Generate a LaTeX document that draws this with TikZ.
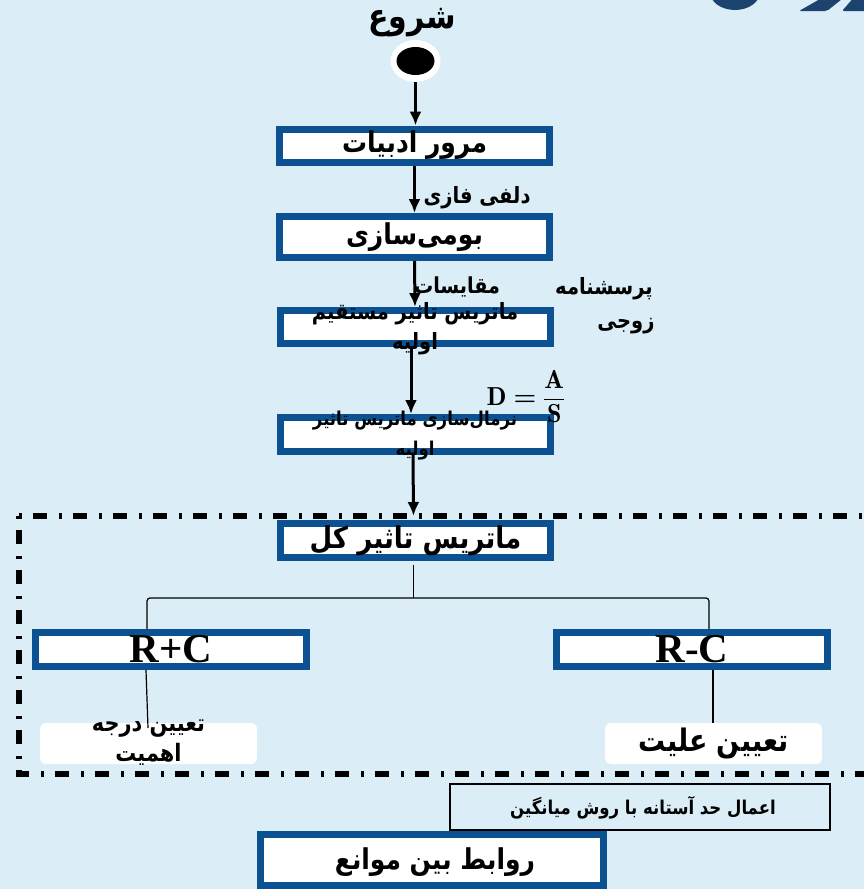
\documentclass[tikz,border=0pt]{standalone}
\usepackage{fontspec}
\usepackage{amsmath}
\usetikzlibrary{arrows.meta,shapes.geometric}
\TeXXeTstate=1
\newfontfamily\farsi[Script=Arabic,FakeStretch=0.87]{DejaVu Sans}
\newfontfamily\latinserif{Liberation Serif}
\newcommand{\rtl}[1]{\beginR #1\endR}
\definecolor{bgblue}{RGB}{219,237,247}
\definecolor{boxblue}{RGB}{12,82,147}
\definecolor{headblue}{RGB}{27,67,110}
\tikzset{
  stepbox/.style={draw=boxblue,line width=7pt,fill=white,minimum width=270pt,minimum height=33pt,inner sep=0pt},
  fatext/.style={font=\farsi\bfseries\fontsize{#1}{30}\selectfont,inner sep=0pt,align=center},
  latinbig/.style={font=\latinserif\bfseries\fontsize{41}{41}\selectfont,inner sep=0pt},
  flow/.style={-{Latex[length=14pt,width=12pt]},line width=3pt},
  conn/.style={line width=1.2pt},
  labelbox/.style={fill=white,rounded corners=6pt,minimum width=217pt,minimum height=41pt,inner sep=0pt},
  framedash/.style={line width=6pt,dash pattern=on 3pt off 11pt on 14pt off 12pt}
}
\begin{document}
\begin{tikzpicture}[x=1pt,y=-1pt]
\useasboundingbox (0,0) rectangle (864,889);
\fill[bgblue] (0,0) rectangle (864,889);
\fill[headblue] (735,-8) ellipse [x radius=25, y radius=18];
\fill[headblue,rounded corners=2pt] (827,-5) -- (847,-5) -- (827,11) -- (799,11) -- cycle;
\fill[headblue,rounded corners=2pt] (856,-5) -- (880,-5) -- (880,11) -- (842,11) -- cycle;
\node[fatext=34.5] (title) at (412,23) {\rtl{شروع}};
\node[ellipse,fill=white,minimum width=50pt,minimum height=42pt,inner sep=0pt] (start) at (415.5,61) {};
\fill (start.center) ellipse [x radius=19, y radius=14];
\node[stepbox,fatext=28.7] (box1) at (414.5,145.5) {\rtl{مرور ادبیات}};
\node[stepbox,fatext=28.7,minimum height=41pt] (box2) at (414.5,237) {\rtl{بومی‌سازی}};
\node[stepbox] (box3) at (415,327) {};
\node[stepbox,minimum height=34pt] (box4) at (415,434.5) {};
\node[stepbox,fatext=30,minimum height=34pt] (box5) at (415.5,540.5) {\rtl{ماتریس تاثیر کل}};
\node[stepbox,latinbig,minimum width=271pt,minimum height=34pt] (rpc) at (171,649.5) {R+C};
\node[stepbox,latinbig,minimum width=271pt,minimum height=34pt] (rmc) at (692,649.5) {R-C};
\node[labelbox] (rpclabel) at (148.5,743.5) {};
\node[labelbox,fatext=31] (rmclabel) at (713.5,743.5) {\rtl{تعیین علیت}};
\node[draw,line width=2pt,minimum width=380pt,minimum height=46pt,inner sep=0pt] (threshold) at (640,807) {};
\node[stepbox,minimum width=343pt,minimum height=51pt] (relations) at (432,860) {};
\draw[flow] (start.south) -- (start.south |- box1.north);
\draw[flow] (box1.south) -- (box2.north);
\draw[flow] (box2.south) -- (box3.north);
\draw[flow] ([xshift=-4pt]box3.south) -- ([xshift=-4pt]box4.north);
\draw[flow] ([xshift=-2pt]box4.south) -- ([xshift=-2pt,yshift=4pt]box5.north);
\coordinate (split) at (413.5,598);
\draw[conn,shorten <=4pt] ([xshift=-2pt]box5.south) -- (split);
\draw[conn,rounded corners=3pt] ([xshift=-24pt]rpc.north) |- (split) -| ([xshift=17pt]rmc.north);
\coordinate (rpcend) at (148,728);
\draw[conn] ([xshift=-25pt]rpc.south) -- (rpcend);
\draw[conn] ([xshift=21pt]rmc.south) -- ([xshift=21pt]rmc.south |- rmclabel.north);
\draw[framedash] (18.5,516) -- (880,516);
\draw[framedash] (18.5,516) -- (18.5,773.5) -- (880,773.5);
\node[fatext=22.4] (delphi) at (477,198) {\rtl{دلفی فازی}};
\node[fatext=22] (pairwise1) at (457,287) {\rtl{مقایسات}};
\node[fatext=22.4] (pairwise2) at (604,289) {\rtl{پرسشنامه}};
\node[fatext=22.4] (pairwise3) at (626,326) {\rtl{زوجی}};
\node[fatext=22.4] (box3text) at (415,329) {\rtl{ماتریس تاثیر مستقیم}\\\rtl{اولیه}};
\node[fatext=19] (box4text) at (415,436) {\rtl{نرمال‌سازی ماتریس تاثیر}\\\rtl{اولیه}};
\node[font=\fontsize{26}{30}\selectfont,inner sep=0pt] (ratio) at (526,397) {$\mathbf{D}\mathrel{\text{\bfseries =}}\dfrac{\mathbf{A}}{\mathbf{S}}$};
\node[fatext=24] (rpctext) at (148.5,743) {\rtl{تعیین درجه}\\\rtl{اهمیت}};
\node[fatext=19] (thresholdtext) at (643,808) {\rtl{اعمال حد آستانه با روش میانگین}};
\node[fatext=28.7] (relationstext) at (435,862) {\rtl{روابط بین موانع}};
\end{tikzpicture}
\end{document}
